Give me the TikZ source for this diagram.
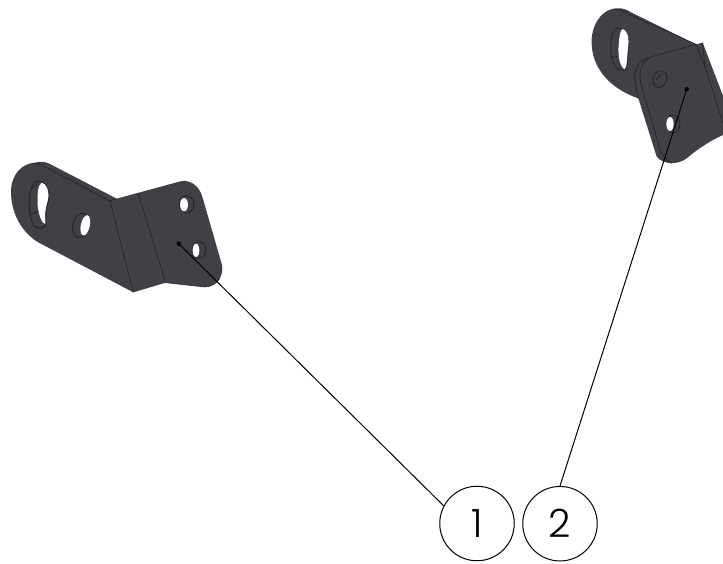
\documentclass[tikz,border=0pt]{standalone}
\usepackage{fontspec}
\newfontfamily\lab{Poppins Light}
\definecolor{steel}{HTML}{3F4146}
\definecolor{edge}{HTML}{1E2024}
\tikzset{
  plate/.style={fill=steel,draw=none},
  crease/.style={draw=edge,line width=.55pt},
  hole/.style={fill=white,draw=none},
  rim/.style={draw=edge,line width=.7pt},
  balloon/.style={circle,draw=black,line width=1pt,minimum size=74.5pt,inner sep=0pt,font=\lab\fontsize{39}{39}\selectfont},
  pin/.style={circle,fill=black,inner sep=0pt,minimum size=4.5pt},
  leader/.style={draw=black,line width=1pt}
}
\begin{document}
\begin{tikzpicture}[x=1pt,y=-1pt]
\useasboundingbox (0,0) rectangle (723,563);
% left bracket (coordinates taken in a 3x crop)
\begin{scope}[shift={(0,150)},x=.33333pt,y=-.33333pt]
  \path[plate] (33,125) .. controls (33,75) and (65,40) .. (105,38) .. controls (120,34) and (135,34) .. (150,42)
    -- (350,146) -- (545,93) .. controls (575,90) and (598,110) .. (607,140)
    -- (666,345) .. controls (672,380) and (650,408) .. (615,411) -- (497,398) -- (400,427)
    -- (130,285) .. controls (75,260) and (33,200) .. (33,125) -- cycle;
  \draw[crease] (96,40) .. controls (105,38) and (115,40) .. (125,45) -- (330,153) -- (350,146);
  \draw[crease] (330,153) -- (400,427);
  \draw[crease] (415,132) -- (497,398);
  \draw[crease] (497,398) -- (615,411) .. controls (635,410) and (650,400) .. (660,385);
  % slot
  \path[hole] (125,98) .. controls (140,100) and (148,118) .. (146,140) .. controls (143,160) and (132,175) .. (137,222) .. controls (128,225) and (115,195) .. (113,165) .. controls (112,135) and (113,105) .. (125,98) -- cycle;
  \draw[rim] (112,94) .. controls (130,88) and (146,110) .. (147,132) .. controls (148,160) and (134,175) .. (138,212) .. controls (140,238) and (115,240) .. (103,228) .. controls (90,212) and (84,170) .. (90,130) .. controls (93,110) and (100,97) .. (112,94) -- cycle;
  \draw[crease] (93,117) -- (115,100);
  \draw[crease] (88,195) -- (113,185);
  % holes
  \draw[rim,fill=steel,rotate around={-12:(243,226)}] (243,226) ellipse (25 and 37);
  \path[hole,rotate around={-12:(256,226)}] (256,226) ellipse (13.5 and 31);
  \draw[rim,fill=steel] (560,163) ellipse (22 and 26);
  \path[hole] (552,164) ellipse (12 and 20);
  \draw[rim,fill=steel] (597,300) ellipse (21 and 25);
  \path[hole] (588,301) ellipse (10 and 20);
\end{scope}
% right bracket
\begin{scope}[shift={(570,0)},x=.33333pt,y=-.33333pt]
  \path[plate] (65,115) .. controls (70,60) and (105,25) .. (140,25) .. controls (155,23) and (170,28) .. (185,38)
    -- (378,133) -- (398,128) -- (460,290) -- (459,405) .. controls (425,420) and (385,445) .. (350,475)
    .. controls (325,495) and (280,495) .. (260,470) -- (205,295) .. controls (130,270) and (60,210) .. (65,115) -- cycle;
  \draw[crease] (135,27) .. controls (150,28) and (165,35) .. (175,42) -- (378,133);
  \draw[crease] (378,133) -- (238,172) .. controls (212,178) and (195,200) .. (193,235) -- (205,295);
  \draw[crease] (378,133) -- (405,200) -- (459,370);
  \draw[crease] (240,172) .. controls (222,180) and (205,205) .. (212,250) -- (265,430) .. controls (270,460) and (285,480) .. (305,490);
  \draw[crease] (398,128) -- (405,200);
  % slot
  \draw[rim] (145,84) .. controls (165,85) and (178,105) .. (176,135) .. controls (172,175) and (175,205) .. (165,210) .. controls (140,215) and (122,190) .. (122,145) .. controls (122,110) and (130,84) .. (145,84) -- cycle;
  \path[hole] (158,87) .. controls (170,90) and (178,110) .. (175,135) .. controls (170,175) and (172,200) .. (164,208) .. controls (150,200) and (143,170) .. (146,135) .. controls (148,110) and (150,92) .. (158,87) -- cycle;
  \draw[crease] (122,175) -- (145,168);
  % holes
  \draw[rim,fill=steel,rotate around={-20:(270,237)}] (270,237) ellipse (20 and 26);
  \draw[rim] (258,240) -- (272,222);
  \draw[rim,fill=steel] (310,372) ellipse (20 and 27);
  \path[hole] (300,372) ellipse (11 and 21);
\end{scope}
\node[balloon] (n1) at (477,523.5) {1};
\node[balloon] (n2) at (560,523.7) {2};
\node[pin] (d1) at (178.7,243.7) {};
\node[pin] (d2) at (686.7,89.3) {};
\draw[leader] (n1.152) -- (d1.center);
\draw[leader] (n2.north) -- (d2.center);
\end{tikzpicture}
\end{document}
